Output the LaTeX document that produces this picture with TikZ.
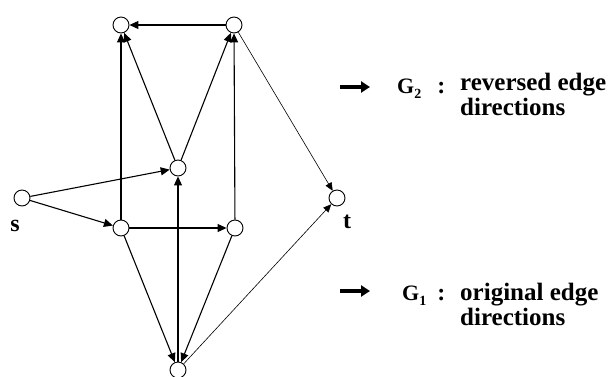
\documentclass[tikz,border=0pt]{standalone}
\usepackage{fontspec}
\setmainfont{Liberation Serif}
\usetikzlibrary{arrows.meta,positioning}

\begin{document}
\begin{tikzpicture}[x=1pt,y=-1pt,
  vertex/.style={circle, draw, line width=0.9pt, minimum size=16pt, inner sep=0pt, fill=white},
  edge/.style={line width=1.1pt, -{Triangle[length=9pt,width=8pt]}},
  thinedge/.style={line width=0.6pt, -{Triangle[length=8pt,width=7pt]}},
  vlabel/.style={inner sep=0pt, font=\fontsize{24}{24}\selectfont\bfseries},
  glabel/.style={anchor=base west, inner sep=0pt, font=\fontsize{22}{22}\selectfont\bfseries},
  desc/.style={anchor=base west, align=left, inner sep=0pt, font=\fontsize{25}{25.5}\selectfont\bfseries},
  legarrow/.style={line width=3.5pt, -{Triangle[length=9pt,width=11pt]}}]
  \useasboundingbox (0,0) rectangle (614,376);

  % vertices
  \node[vertex] (a) at (121,25) {};
  \node[vertex] (b) at (234,25) {};
  \node[vertex] (c) at (178,168) {};
  \node[vertex] (s) at (22,198) {};
  \node[vertex] (d) at (121,228) {};
  \node[vertex] (e) at (235,228) {};
  \node[vertex] (t) at (337,198) {};
  \node[vertex] (f) at (178,370) {};
  \node[vlabel] (slbl) at (15,226) {s};
  \node[vlabel] (tlbl) at (347,222) {t};

  % edges
  \draw[edge] (b) -- (a);
  \draw[edge] (d) -- (a);
  \draw[edge] (c) -- (a);
  \draw[edge] (c) -- (b);
  \draw[edge] (e) -- (b);
  \draw[thinedge] (b) -- (t);
  \draw[edge] (s) -- (c);
  \draw[edge] (s) -- (d);
  \draw[edge] (d) -- (e);
  \draw[edge] (f) -- (c);
  \draw[edge] (d) -- (f);
  \draw[edge] (e) -- (f);
  \draw[thinedge] (f) -- (t);

  % legend
  \coordinate (arrtwo) at (340,87);
  \coordinate (arrone) at (340,291);
  \draw[legarrow] (arrtwo) -- ++(30,0);
  \draw[legarrow] (arrone) -- ++(30,0);
  \node[glabel] (gtwo) at (397,93) {G\raisebox{-5pt}{\fontsize{14}{14}\selectfont 2}\hspace{16pt}{\fontsize{24}{24}\selectfont:}};
  \node[glabel] (gone) at (402,300) {G\raisebox{-5pt}{\fontsize{14}{14}\selectfont 1}\hspace{11pt}{\fontsize{24}{24}\selectfont:}};
  \node[desc] (rev) at (460,115.5) {reversed edge\\directions};
  \node[desc] (orig) at (460,325.5) {original edge\\directions};
\end{tikzpicture}
\end{document}
